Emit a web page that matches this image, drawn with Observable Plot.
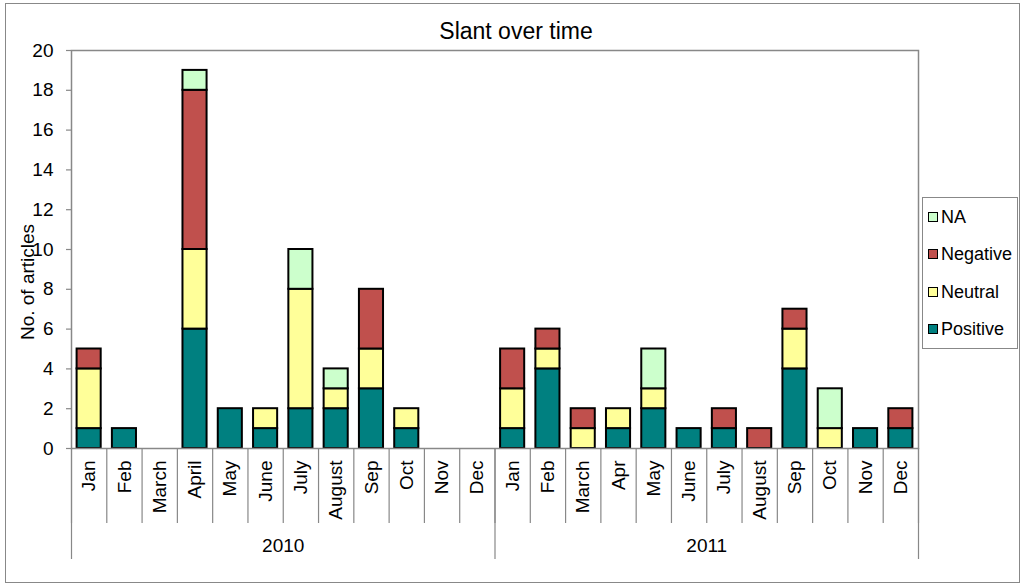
<!DOCTYPE html>
<html><head><meta charset="utf-8">
<script src="https://cdn.jsdelivr.net/npm/d3@7"></script>
<script src="https://cdn.jsdelivr.net/npm/@observablehq/plot@0.6"></script>
<style>
body{margin:0;background:#fff;font-family:Arial,"Liberation Sans",sans-serif;color:#000}
#wrap{position:relative;width:1024px;height:588px;overflow:hidden}
#border{position:absolute;left:5px;top:3px;width:1015px;height:580px;border:1.5px solid #888;box-sizing:border-box}
#title{position:absolute;top:18px;left:0;width:1032px;text-align:center;font-size:23px}
#ylabel{position:absolute;left:28px;top:282px;transform:translate(-50%,-50%) rotate(-90deg);font-size:19px;white-space:nowrap}
#legend{position:absolute;left:922px;top:197px;width:96px;height:152px;border:1.5px solid #888;box-sizing:border-box;background:#fff}
.item{position:absolute;left:5px;font-size:18px;line-height:20px;display:flex;align-items:center}
.sw{width:10px;height:10px;border:1.2px solid #000;margin-right:3px;box-sizing:border-box}
#chart svg{position:absolute;left:0;top:0}
</style></head>
<body>
<div id="wrap">
  <div id="border"></div>
  <div id="chart"></div>
  <div id="title">Slant over time</div>
  <div id="ylabel">No. of articles</div>
  <div id="legend"></div>
</div>
<script>
const years = ["2010", "2011"];
const months2010 = ["Jan","Feb","March","April","May","June","July","August","Sep","Oct","Nov","Dec"];
const months2011 = ["Jan","Feb","March","Apr","May","June","July","August","Sep","Oct","Nov","Dec"];
const sentiments = ["Positive", "Neutral", "Negative", "NA"];
const colors = ["#008080", "#FFFF99", "#C0504D", "#CCFFCC"];
const positive = [1,1,0,6,2,1,2,2,3,1,0,0, 1,4,0,1,2,1,1,0,4,0,1,1];
const neutral  = [3,0,0,4,0,1,6,1,2,1,0,0, 2,1,1,1,1,0,0,0,2,1,0,0];
const negative = [1,0,0,8,0,0,0,0,3,0,0,0, 2,1,1,0,0,0,1,1,1,0,0,1];
const na       = [0,0,0,1,0,0,2,1,0,0,0,0, 0,0,0,0,2,0,0,0,0,2,0,0];
const yTicks = [0,2,4,6,8,10,12,14,16,18,20];

const monthLabels = months2010.concat(months2011);
const series = [positive, neutral, negative, na];
const data = [];
monthLabels.forEach((m, i) => {
  sentiments.forEach((s, k) => {
    const v = series[k][i];
    if (v > 0) data.push({i, month: m, sentiment: s, value: v});
  });
});
const n = monthLabels.length;
const bounds = d3.range(n + 1);
const centers = d3.range(n).map(i => i + 0.5);
const yearBounds = [0, 12, 24];
const yearCenters = [6, 18];

const plot = Plot.plot({
  width: 1024,
  height: 588,
  marginLeft: 71,
  marginRight: 106,
  marginTop: 50,
  marginBottom: 140,
  style: {fontFamily: "Arial, 'Liberation Sans', sans-serif", background: "transparent", color: "#000"},
  x: {type: "linear", domain: [0, n], axis: null, label: null},
  y: {domain: [0, 20], axis: null, label: null},
  color: {domain: sentiments, range: colors},
  marks: [
    Plot.rectY(data, {x: "i", interval: 1, y: "value", fill: "sentiment", order: sentiments,
      stroke: "#000", strokeWidth: 2, insetLeft: 5.6, insetRight: 5.6}),
    Plot.frame({stroke: "#888", strokeWidth: 1.5}),
    Plot.axisY(yTicks, {label: null, tickSize: 5, tickPadding: 13, fontSize: 19, stroke: "#888", strokeWidth: 1.2}),
    Plot.axisX(bounds, {label: null, tickSize: 75, tickFormat: () => "", stroke: "#888", strokeWidth: 1.2}),
    Plot.axisX(yearBounds, {label: null, tickSize: 111, tickFormat: () => "", stroke: "#888", strokeWidth: 1.2}),
    Plot.axisX(centers, {label: null, tickSize: 0, tickPadding: 12, tickRotate: -90, fontSize: 19,
      tickFormat: d => monthLabels[Math.floor(d)]}),
    Plot.axisX(yearCenters, {label: null, tickSize: 0, tickPadding: 90, fontSize: 19,
      tickFormat: d => years[Math.floor(d / 12)]})
  ]
});
document.getElementById("chart").appendChild(plot);

const legend = document.getElementById("legend");
const order = ["NA", "Negative", "Neutral", "Positive"];
order.forEach((s, k) => {
  const it = document.createElement("div");
  it.className = "item";
  it.style.top = (9 + k * 37.3) + "px";
  const sw = document.createElement("div");
  sw.className = "sw";
  sw.style.background = colors[sentiments.indexOf(s)];
  const t = document.createElement("span");
  t.textContent = s;
  it.appendChild(sw); it.appendChild(t);
  legend.appendChild(it);
});
</script>
</body></html>
